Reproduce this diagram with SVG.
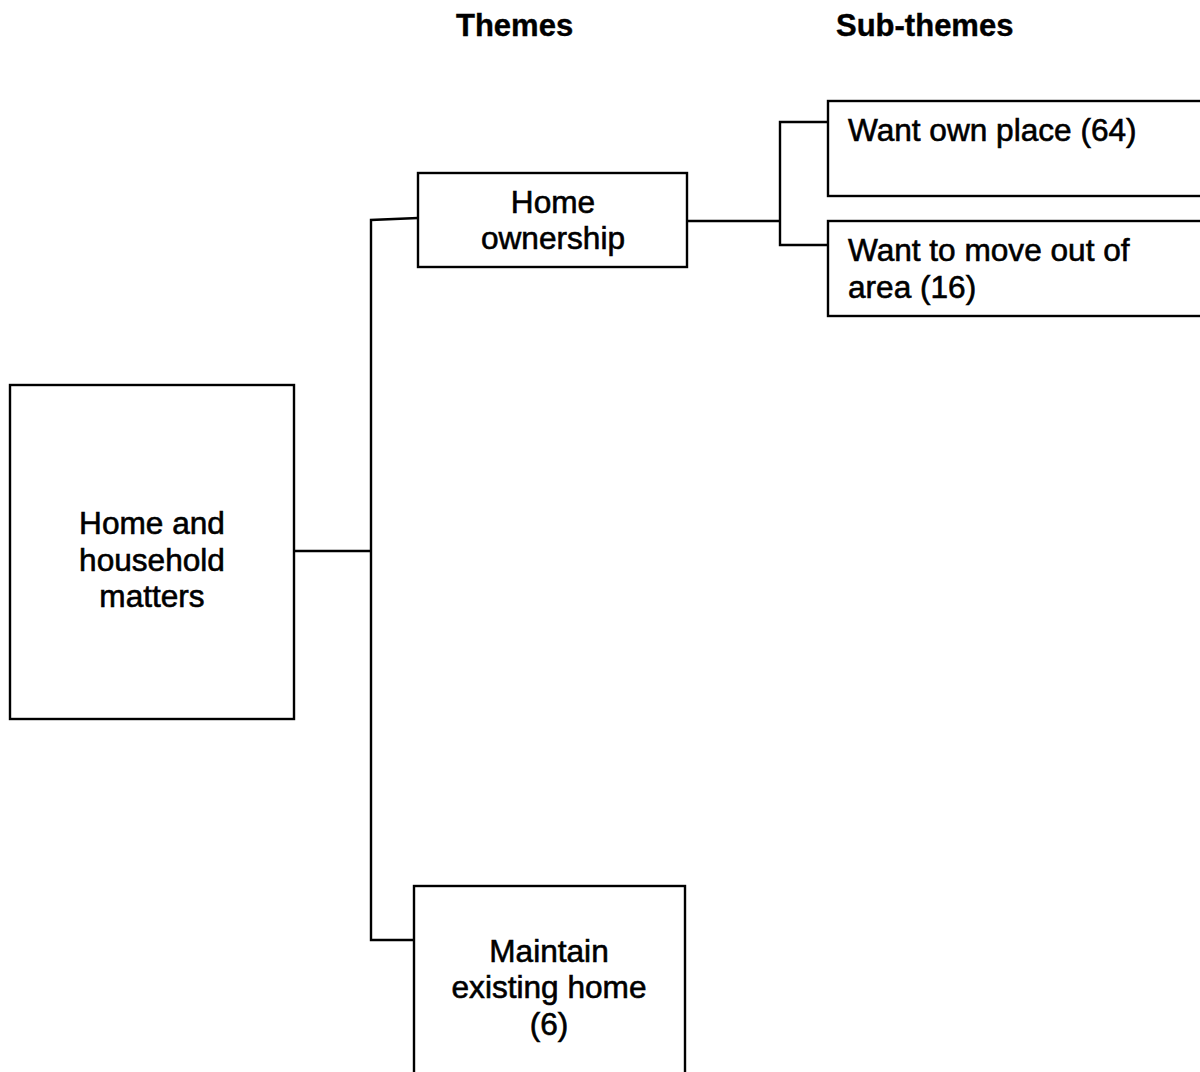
<svg xmlns="http://www.w3.org/2000/svg" width="1200" height="1072" viewBox="0 0 1200 1072">
  <style>
    .box { fill: #ffffff; stroke: #000000; stroke-width: 2.4; }
    .link { fill: none; stroke: #000000; stroke-width: 2.4; }
    .label { font-family: "Liberation Sans", Arial, sans-serif; font-size: 31.6px; fill: #000000; stroke: #000000; stroke-width: 0.6; }
    .mid { text-anchor: middle; }
    .head { font-family: "Liberation Sans", Arial, sans-serif; font-size: 31px; font-weight: bold; fill: #000000; stroke: #000000; stroke-width: 0.4; }
  </style>
  <rect width="1200" height="1072" fill="#ffffff"/>

  <!-- column headings -->
  <text class="head" x="456" y="36">Themes</text>
  <text class="head" x="836" y="36">Sub-themes</text>

  <!-- connectors -->
  <g id="connectors">
    <polyline class="link" points="294,551 371,551"/>
    <polyline class="link" points="418,218 371,220 371,940 414,940"/>
    <polyline class="link" points="687,221 780,221"/>
    <polyline class="link" points="828,122 780,122 780,245 828,245"/>
  </g>

  <g id="node-home-household">
    <rect class="box" x="10" y="385" width="284" height="334"/>
    <text class="label mid" x="152" y="534">Home and</text>
    <text class="label mid" x="152" y="571">household</text>
    <text class="label mid" x="152" y="607">matters</text>
  </g>

  <g id="node-home-ownership">
    <rect class="box" x="418" y="173" width="269" height="94"/>
    <text class="label mid" x="553" y="213">Home</text>
    <text class="label mid" x="553" y="249">ownership</text>
  </g>

  <g id="node-maintain-home">
    <rect class="box" x="414" y="886" width="271" height="200"/>
    <text class="label mid" x="549" y="962">Maintain</text>
    <text class="label mid" x="549" y="998">existing home</text>
    <text class="label mid" x="549" y="1035">(6)</text>
  </g>

  <g id="node-want-own-place">
    <rect class="box" x="828" y="101" width="390" height="95"/>
    <text class="label" x="848" y="141">Want own place (64)</text>
  </g>

  <g id="node-move-out">
    <rect class="box" x="828" y="221" width="390" height="95"/>
    <text class="label" x="848" y="261">Want to move out of</text>
    <text class="label" x="848" y="298">area (16)</text>
  </g>
</svg>
